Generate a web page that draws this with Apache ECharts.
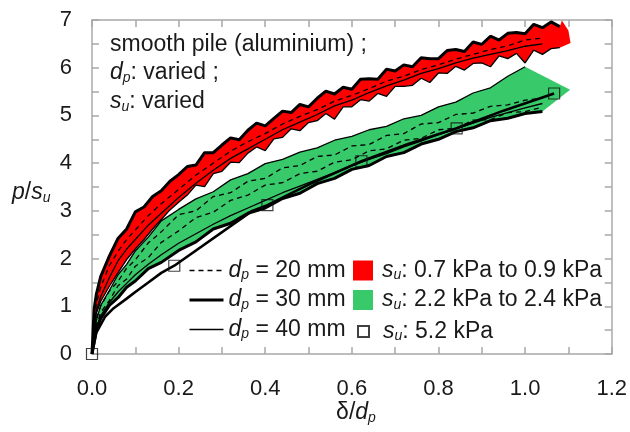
<!DOCTYPE html>
<html><head><meta charset="utf-8">
<script src="https://cdn.jsdelivr.net/npm/echarts@6/dist/echarts.min.js"></script>
<style>html,body{margin:0;padding:0;background:#fff}#c{width:630px;height:432px}</style>
</head><body><div id="c"></div>
<script>
// ---------- data ----------
const xTickLabels = ['0.0','0.2','0.4','0.6','0.8','1.0','1.2'];
const yTickLabels = ['0','1','2','3','4','5','6','7'];

// red band (s_u 0.7-0.9 kPa)
const xR = [0,0.005,0.01,0.02,0.04,0.06,0.08,0.1,0.12,0.14,0.16,0.18,0.2,0.22,0.24,0.26,0.28,0.3,0.32,0.34,0.36,0.38,0.4,0.42,0.44,0.46,0.48,0.5,0.52,0.54,0.56,0.58,0.6,0.62,0.64,0.66,0.68,0.7,0.72,0.74,0.76,0.78,0.8,0.82,0.84,0.86,0.88,0.9,0.92,0.94,0.96,0.98,1,1.02,1.04,1.06,1.08];
const redTop = [0,0.95,1.25,1.62,2.05,2.42,2.62,2.98,3.08,3.3,3.42,3.62,3.76,3.93,3.96,4.22,4.22,4.38,4.53,4.49,4.69,4.84,4.78,4.94,5.09,5.06,5.23,5.18,5.36,5.51,5.45,5.59,5.55,5.76,5.77,5.76,5.97,5.93,6.06,6.02,6.21,6.19,6.19,6.36,6.38,6.34,6.54,6.49,6.66,6.58,6.72,6.74,6.71,6.91,6.84,6.96,6.86];
const redBottom = [0,0.6,0.85,1.1,1.42,1.7,1.98,2.2,2.4,2.62,2.82,3.02,3.18,3.33,3.54,3.51,3.78,3.83,4.02,4.01,4.21,4.34,4.26,4.51,4.54,4.72,4.68,4.85,4.89,5.04,4.92,5.18,5.18,5.33,5.3,5.46,5.4,5.61,5.61,5.63,5.78,5.69,5.89,5.88,6.03,5.95,6.09,6.1,6.02,6.25,6.19,6.3,6.1,6.37,6.28,6.4,6.42];
const redTipX = [1.085, 1.1, 1.105];
const redTipY = [6.99, 6.78, 6.52];

// coarse grid for inner curves and green band (s_u 2.2-2.4 kPa)
const xC = [0,0.01,0.02,0.04,0.06,0.08,0.1,0.13,0.16,0.2,0.24,0.28,0.32,0.36,0.4,0.44,0.48,0.52,0.56,0.6,0.64,0.68,0.72,0.76,0.8,0.84,0.88,0.92,0.96,1.0,1.04];
const redDash = [0,1.05,1.4,1.85,2.15,2.4,2.6,2.9,3.15,3.45,3.75,4.0,4.25,4.45,4.62,4.82,4.98,5.12,5.3,5.42,5.56,5.72,5.82,5.96,6.06,6.18,6.28,6.38,6.46,6.58,6.62];
const redThin = [0,0.9,1.2,1.6,1.95,2.2,2.4,2.7,2.95,3.28,3.58,3.85,4.1,4.3,4.5,4.7,4.86,5.02,5.2,5.32,5.48,5.62,5.74,5.88,5.98,6.1,6.2,6.28,6.36,6.45,6.5];

const greenUp = [0,0.7,1.02,1.33,1.66,1.88,2.16,2.45,2.79,3.03,3.25,3.4,3.65,3.78,3.99,4.08,4.23,4.32,4.48,4.56,4.7,4.77,4.93,5.0,5.18,5.28,5.47,5.58,5.82,6.02];
const greenTipX = [1.104];
const greenTipY = [5.54];
const greenLow = [0,0.5,0.74,1.02,1.18,1.4,1.53,1.79,1.92,2.17,2.35,2.62,2.74,2.95,3.06,3.26,3.37,3.57,3.68,3.87,3.95,4.14,4.22,4.4,4.5,4.66,4.74,4.89,4.94,5.04,5.08];
const greenDashA = [0,0.75,1.0,1.32,1.52,1.8,1.97,2.33,2.56,2.92,3.0,3.3,3.38,3.62,3.68,3.9,3.95,4.14,4.17,4.36,4.39,4.58,4.62,4.82,4.85,5.02,5.05,5.19,5.22,5.32,5.36];
const greenDashB = [0,0.6,0.87,1.12,1.43,1.57,1.84,2.02,2.34,2.58,2.86,2.97,3.22,3.33,3.54,3.59,3.78,3.83,4.02,4.07,4.26,4.3,4.48,4.52,4.7,4.73,4.9,4.91,5.06,5.08,5.17];
const greenThin = [0,0.55,0.8,1.08,1.3,1.48,1.66,1.88,2.08,2.32,2.52,2.72,2.9,3.06,3.22,3.38,3.52,3.66,3.8,3.94,4.08,4.2,4.34,4.46,4.6,4.72,4.84,4.96,5.06,5.16,5.25];

// s_u 5.2 kPa
const s52X = [0,0.01,0.03,0.05,0.08,0.1,0.13,0.16,0.19,0.37,0.405,0.5,0.622,0.73,0.842,0.95,1.067];
const s52Y = [0,0.45,0.78,0.96,1.16,1.3,1.5,1.7,1.85,3.0,3.12,3.55,4.04,4.4,4.73,5.1,5.46];
const markX = [0,0.19,0.405,0.622,0.842,1.067];
const markY = [0,1.85,3.12,4.04,4.73,5.46];

const N20 = 'dp = 20 mm', N30 = 'dp = 30 mm', N40 = 'dp = 40 mm';
const NR = 'su: 0.7 kPa to 0.9 kPa', NG = 'su: 2.2 kPa to 2.4 kPa', N52 = 'su: 5.2 kPa';
const richNames = {};
richNames[N20] = '{i|d}{s|p}{n| = 20 mm}';
richNames[N30] = '{i|d}{s|p}{n| = 30 mm}';
richNames[N40] = '{i|d}{s|p}{n| = 40 mm}';
richNames[NR] = '{i|s}{s|u}{n|: 0.7 kPa to 0.9 kPa}';
richNames[NG] = '{i|s}{s|u}{n|: 2.2 kPa to 2.4 kPa}';
richNames[N52] = '{i|s}{s|u}{n|: 5.2 kPa}';

// ---------- styles ----------
const FONT = 'Liberation Sans, Arial, Helvetica, sans-serif';
const TXT = '#1a1a1a';
const AX = '#a8a8a8';
const RED = '#ff0000';
const GREEN = '#38c96a';

const pairs = (xs, ys) => ys.map((y, i) => [xs[i], y]);

const redPoly = pairs(xR, redTop).concat(pairs(redTipX, redTipY), pairs(xR, redBottom).reverse());
const greenPoly = pairs(xC, greenUp).concat(pairs(greenTipX, greenTipY), pairs(xC, greenLow).reverse());

function band(name, poly, color) {
  return {
    type: 'custom', name, coordinateSystem: 'cartesian2d', data: [[0, 0]], z: 1, silent: true,
    itemStyle: { color },
    renderItem: (params, api) => ({
      type: 'polygon',
      shape: { points: poly.map(p => api.coord(p)) },
      style: { fill: color, stroke: null }
    })
  };
}
function line(name, xs, ys, width, type) {
  return {
    type: 'line', name, data: pairs(xs, ys), symbol: 'none', silent: true, z: 3,
    lineStyle: { color: '#000', width, type: type || 'solid' },
    itemStyle: { color: '#000' }
  };
}
const FS = 23;
const rich = {
  n: { fontSize: FS, lineHeight: 24, fontFamily: FONT, color: TXT },
  i: { fontSize: FS, lineHeight: 24, fontFamily: FONT, fontStyle: 'italic', color: TXT },
  s: { fontSize: 14, lineHeight: 10, fontFamily: FONT, fontStyle: 'italic', color: TXT, verticalAlign: 'bottom' }
};
const zrich = {
  n: { fontSize: FS, lineHeight: 24, fontFamily: FONT, fill: TXT },
  i: { fontSize: FS, lineHeight: 24, fontFamily: FONT, fontStyle: 'italic', fill: TXT },
  s: { fontSize: 14, lineHeight: 10, fontFamily: FONT, fontStyle: 'italic', fill: TXT, verticalAlign: 'bottom' }
};
const legendBase = {
  orient: 'vertical', selectedMode: false, itemGap: 6, padding: 0,
  formatter: name => richNames[name],
  textStyle: { rich, fontFamily: FONT, fontSize: FS, color: TXT },
  lineStyle: { width: 'inherit' }
};

const axisCommon = {
  axisLine: { show: true, onZero: false, lineStyle: { color: AX, width: 1.5 } },
  axisTick: { show: true, inside: true, length: 7, lineStyle: { color: AX, width: 1.5 } },
  splitLine: { show: false }
};

const chart = echarts.init(document.getElementById('c'), null, { renderer: 'canvas' });
chart.setOption({
  animation: false,
  backgroundColor: '#fff',
  grid: { left: 92, right: 17, top: 20, bottom: 78, containLabel: false },
  xAxis: [
    Object.assign({ type: 'value', min: 0, max: 1.2, interval: 0.1, position: 'bottom',
      axisLabel: { margin: 24, fontSize: 22, fontFamily: FONT, color: TXT,
        formatter: v => { const k = Math.round(v * 10); return k % 2 === 0 ? xTickLabels[k / 2] : ''; } } }, axisCommon),
    Object.assign({ type: 'value', min: 0, max: 1.2, interval: 0.1, position: 'top', axisLabel: { show: false } }, axisCommon)
  ],
  yAxis: [
    Object.assign({ type: 'value', min: 0, max: 7, interval: 0.5, position: 'left',
      axisLabel: { margin: 20, fontSize: 22, fontFamily: FONT, color: TXT,
        formatter: v => { const k = Math.round(v * 2); return k % 2 === 0 ? yTickLabels[k / 2] : ''; } } }, axisCommon),
    Object.assign({ type: 'value', min: 0, max: 7, interval: 0.5, position: 'right', axisLabel: { show: false } }, axisCommon)
  ],
  legend: [
    Object.assign({}, legendBase, { left: 188, top: 259, itemWidth: 34, itemHeight: 14,
      itemStyle: { opacity: 0 },
      data: [{ name: N20 }, { name: N30 }, { name: N40 }] }),
    Object.assign({}, legendBase, { left: 353, top: 259, itemWidth: 20, itemHeight: 20,
      textStyle: { rich, fontFamily: FONT, fontSize: FS, color: TXT, padding: [0, 0, 0, 4] },
      data: [{ name: NR, icon: 'rect', itemStyle: { color: RED } }, { name: NG, icon: 'rect', itemStyle: { color: GREEN } }] }),
    Object.assign({}, legendBase, { left: 357, top: 320, itemWidth: 11, itemHeight: 11,
      textStyle: { rich, fontFamily: FONT, fontSize: FS, color: TXT, padding: [0, 0, 0, 9] },
      data: [{ name: N52 }] })
  ],
  graphic: [
    { type: 'text', x: 110, y: 45, silent: true, style: { text: '{n|smooth pile (aluminium) ;}', rich: zrich, verticalAlign: 'middle' } },
    { type: 'text', x: 110, y: 73, silent: true, style: { text: '{i|d}{s|p}{n|: varied ;}', rich: zrich, verticalAlign: 'middle' } },
    { type: 'text', x: 110, y: 102, silent: true, style: { text: '{i|s}{s|u}{n|: varied}', rich: zrich, verticalAlign: 'middle' } },
    { type: 'text', x: 12, y: 193, silent: true, style: { text: '{i|p}{n|/}{i|s}{s|u}', rich: zrich, verticalAlign: 'middle' } },
    { type: 'text', x: 356, y: 413, silent: true, style: { text: '{n|δ/}{i|d}{s|p}', rich: zrich, align: 'center', verticalAlign: 'middle' } }
  ],
  series: [
    band(NR, redPoly, RED),
    band(NG, greenPoly, GREEN),
    line(N30, xR, redTop, 3),
    line(N20, xC, redDash, 1.3, [5, 4]),
    line(N40, xC, redThin, 1.3),
    line(N40, xR, redBottom, 1.3),
    line(N40, xC, greenUp, 1.3),
    line(N20, xC, greenDashA, 1.3, [5, 4]),
    line(N20, xC, greenDashB, 1.3, [5, 4]),
    line(N40, xC, greenThin, 1.3),
    line(N30, xC, greenLow, 3),
    line(N30, s52X, s52Y, 2.6),
    {
      type: 'scatter', name: N52, data: pairs(markX, markY), symbol: 'rect', symbolSize: 11, z: 5, silent: true,
      itemStyle: { color: 'rgba(255,255,255,0)', borderColor: '#111', borderWidth: 1.2 }
    }
  ]
});
</script>
</body></html>
